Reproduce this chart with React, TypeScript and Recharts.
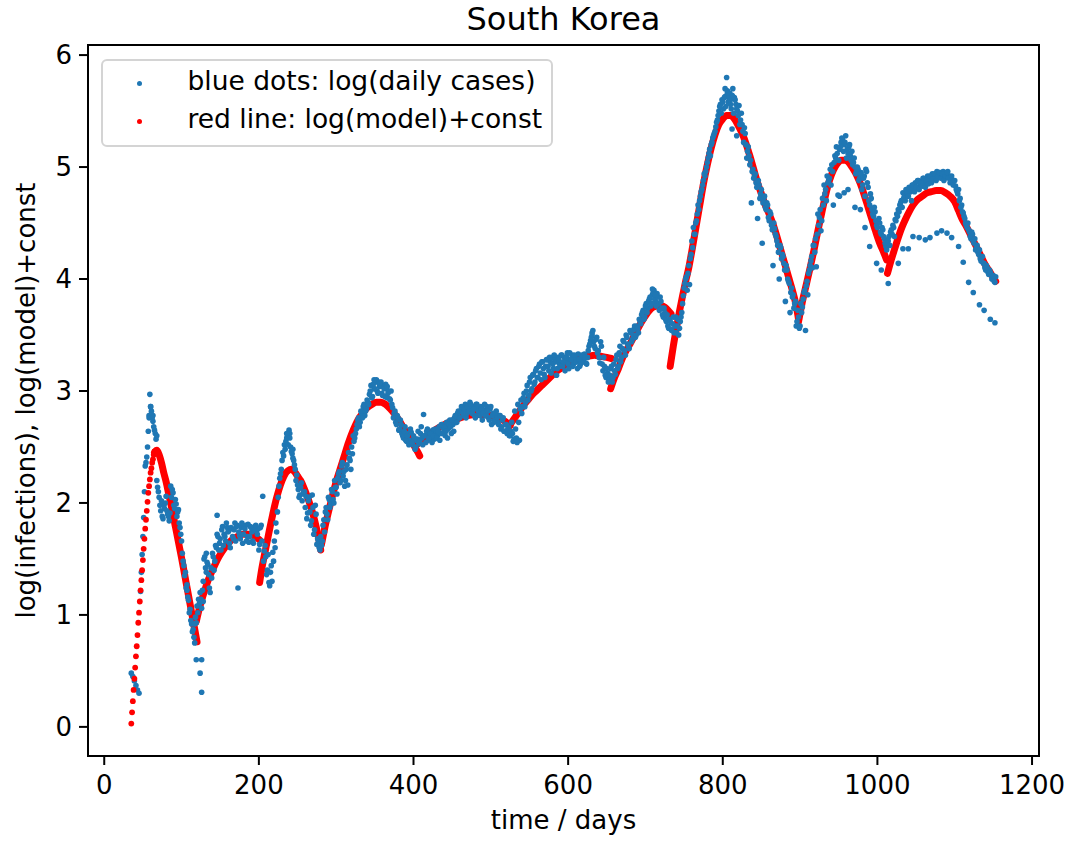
import React from "react";
import { ComposedChart, Scatter, Line, XAxis, YAxis, ReferenceArea } from "recharts";

const FONT = "'DejaVu Sans', sans-serif";
const BLUE = "#1f77b4";
const RED = "#ff0000";

const X_DOMAIN: [number, number] = [-21, 1209];
const Y_DOMAIN: [number, number] = [-0.26, 6.09];
const xTicks = [0, 200, 400, 600, 800, 1000, 1200];
const yTicks = [0, 1, 2, 3, 4, 5, 6];

// log(daily cases), odd days starting at day 35
const BLUE_ODD_FIRST_DAY = 35;
const BLUE_STEP = 2;
const blueCases1 = [
  0.48, 0.45, 0.41, 0.37, 0.33, 0.30, 1.21, 1.54, 1.87, 2.33,
  2.41, 2.64, 2.97, 2.82, 2.73, 2.65, 2.57, 2.14, 2.05, 1.93,
  1.88, 1.98, 2.00, 1.93, 1.88, 1.91, 2.05, 2.09, 1.95, 1.99,
  1.92, 1.82, 1.72, 1.55, 1.44, 1.38, 1.27, 1.13, 1.05, 0.92,
  0.87, 0.75, 0.93, 1.02, 1.10, 1.14, 1.22, 1.50, 1.42, 1.47,
  1.36, 1.20, 1.33, 1.52, 1.48, 1.60, 1.70, 1.64, 1.58, 1.79,
  1.72, 1.66, 1.78, 1.75, 1.60, 1.77, 1.68, 1.82, 1.79, 1.24,
  1.71, 1.78, 1.64, 1.79, 1.80, 1.70, 1.65, 1.79, 1.74, 1.64,
  1.79, 1.75, 1.77, 1.63, 1.80, 2.06, 1.57, 1.52, 1.40, 1.29,
  1.38, 1.30, 1.48, 1.60, 1.74, 2.05, 2.22, 2.30, 2.45, 2.52,
  2.55, 2.60, 2.65, 2.50, 2.44, 2.38, 2.30, 2.25, 2.12, 2.07,
  2.18, 2.08, 2.10, 2.06, 1.91, 2.05, 1.80, 2.07, 1.72, 1.98,
  1.63, 1.66, 1.58, 1.62, 1.80, 1.74, 1.96, 1.85, 2.03, 1.99,
];
const blueCases2 = [
  2.10, 2.00, 2.14, 2.08, 2.26, 2.18, 2.33, 2.24, 2.15, 2.30,
  2.16, 2.40, 2.30, 2.44, 2.55, 2.62, 2.70, 2.76, 2.72, 2.80,
  2.86, 2.78, 2.84, 2.90, 2.97, 3.05, 2.95, 3.02, 3.08, 3.00,
  3.08, 3.04, 2.98, 3.05, 2.95, 3.02, 2.98, 2.93, 3.00, 2.85,
  2.80, 2.72, 2.78, 2.65, 2.74, 2.62, 2.58, 2.68, 2.55, 2.62,
  2.56, 2.63, 2.52, 2.58, 2.50, 2.57, 2.53, 2.62, 2.58, 2.79,
  2.60, 2.64, 2.56, 2.62, 2.58, 2.65, 2.57, 2.63, 2.60, 2.68,
  2.62, 2.70, 2.66, 2.60, 2.72, 2.66, 2.74, 2.62, 2.70, 2.76,
  2.72, 2.80, 2.76, 2.82, 2.85, 2.78, 2.88, 2.80, 2.84, 2.90,
  2.82, 2.86, 2.78, 2.88, 2.84, 2.80, 2.86, 2.74, 2.83, 2.78,
  2.86, 2.76, 2.84, 2.70, 2.80, 2.74, 2.82, 2.72, 2.78, 2.66,
  2.74, 2.64, 2.70, 2.62, 2.68, 2.60, 2.72, 2.55, 2.82, 2.58,
];
const blueCases3 = [
  2.88, 2.56, 2.92, 2.86, 2.98, 2.90, 3.05, 2.96, 3.12, 3.02,
  3.15, 3.08, 3.20, 3.12, 3.24, 3.10, 3.26, 3.15, 3.22, 3.28,
  3.18, 3.26, 3.30, 3.20, 3.28, 3.14, 3.30, 3.24, 3.32, 3.22,
  3.30, 3.26, 3.34, 3.20, 3.28, 3.32, 3.24, 3.30, 3.26, 3.33,
  3.22, 3.30, 3.27, 3.33, 3.25, 3.30, 3.40, 3.45, 3.52, 3.44,
  3.38, 3.48, 3.36, 3.25, 3.40, 3.18, 3.22, 3.12, 3.16, 3.10,
  3.20, 3.08, 3.24, 3.15, 3.32, 3.22, 3.40, 3.30, 3.45, 3.36,
  3.50, 3.42, 3.38, 3.52, 3.46, 3.55, 3.48, 3.58, 3.52, 3.62,
  3.68, 3.72, 3.66, 3.78, 3.74, 3.82, 3.76, 3.86, 3.90, 3.80,
  3.87, 3.78, 3.84, 3.74, 3.66, 3.70, 3.62, 3.58, 3.64, 3.55,
  3.60, 3.52, 3.66, 3.58, 3.50, 3.62, 3.70, 3.85, 3.96, 4.02,
];
const blueCases4 = [
  4.05, 3.95, 4.22, 4.28, 4.40, 4.50, 4.58, 4.62, 4.74, 4.80,
  4.88, 4.92, 5.00, 5.08, 5.16, 5.20, 5.26, 5.30, 5.36, 5.42,
  5.50, 5.56, 5.60, 5.52, 5.63, 5.80, 5.58, 5.66, 5.52, 5.70,
  5.62, 5.56, 5.50, 5.55, 5.42, 5.38, 5.22, 5.30, 5.08, 5.18,
  5.02, 4.68, 4.98, 4.92, 4.86, 4.54, 4.84, 4.76, 4.32, 4.72,
  4.64, 4.68, 4.55, 4.60, 4.48, 4.12, 4.45, 4.38, 4.30, 4.00,
  4.28, 4.22, 4.14, 3.80, 4.08, 3.98, 3.70, 3.92, 3.86, 3.78,
  3.58, 3.72, 3.56, 3.78, 3.75, 3.88, 3.54, 3.98, 4.05, 4.12,
  4.20, 4.30, 4.24, 4.11, 4.58, 4.55, 4.43, 4.72, 4.84, 4.80,
  4.92, 4.88, 4.98, 5.02, 4.66, 5.10, 5.18, 4.75, 5.16, 5.22,
];
const blueCases5 = [
  5.25, 5.20, 5.28, 5.16, 5.18, 5.10, 5.14, 5.04, 5.00, 4.96,
  4.98, 4.90, 4.95, 4.84, 4.92, 4.98, 4.86, 4.70, 4.76, 4.62,
  4.56, 4.60, 4.48, 4.52, 4.50, 4.40, 4.44, 4.36, 4.29, 4.34,
  4.38, 4.42, 4.40, 4.46, 4.53, 4.58, 4.62, 4.66, 4.70, 4.77,
  4.74, 4.80, 4.76, 4.82, 4.78, 4.84, 4.80, 4.86, 4.82, 4.88,
  4.84, 4.87, 4.90, 4.85, 4.88, 4.92, 4.86, 4.90, 4.94, 4.89,
  4.93, 4.96, 4.91, 4.95, 4.92, 4.96, 4.90, 4.94, 4.96, 4.92,
  4.90, 4.86, 4.88, 4.83, 4.78, 4.80, 4.72, 4.66, 4.59, 4.54,
  4.48, 4.50, 4.42, 4.36, 4.40, 4.32, 4.26, 4.30, 4.22, 4.18,
  4.20, 4.14, 4.10, 4.12, 4.06, 4.08, 4.04, 4.01, 3.98, 4.02,
];

// log(daily cases), even days starting at day 48
const BLUE_EVEN_FIRST_DAY = 48;
const blueEven1 = [
  1.38, 1.70, 2.10, 2.36, 2.50, 2.78, 2.86, 2.76, 2.68, 2.62,
  2.20, 2.10, 1.98, 2.02, 1.86, 1.95, 2.06, 1.90, 1.84, 2.15,
  2.12, 1.98, 2.03, 1.88, 1.94, 1.78, 1.66, 1.48, 1.35, 1.24,
  1.16, 1.02, 0.95, 0.85, 0.80, 0.98, 1.08, 1.14, 1.20, 1.06,
  1.30, 1.52, 1.38, 1.45, 1.24, 1.42, 1.55, 1.40, 1.62, 1.72,
  1.58, 1.68, 1.76, 1.62, 1.70, 1.82, 1.74, 1.64, 1.78, 1.70,
  1.76, 1.66, 1.80, 1.74, 1.68, 1.82, 1.72, 1.77, 1.66, 1.81,
  1.70, 1.78, 1.66, 1.76, 1.80, 1.72, 1.58, 1.78, 1.66, 1.48,
  1.62, 1.36, 1.54, 1.26, 1.44, 1.56, 1.66, 1.82, 1.92, 2.15,
  2.26, 2.38, 2.42, 2.48, 2.58, 2.52, 2.62, 2.46, 2.40, 2.34,
  2.20, 2.16, 2.05, 2.14, 2.02, 2.10, 1.96, 1.86, 2.02, 1.92,
  1.84, 1.96, 1.76, 1.90, 1.68, 1.60, 1.70, 1.66, 1.85, 1.92,
  1.90, 2.05, 1.96, 2.12, 2.03, 2.20, 2.14, 2.22, 2.28, 2.20,
];
const blueEven2 = [
  2.36, 2.28, 2.20, 2.34, 2.45, 2.38, 2.50, 2.60, 2.58, 2.66,
  2.74, 2.68, 2.82, 2.76, 2.88, 2.82, 2.92, 2.88, 3.00, 2.94,
  3.06, 3.02, 3.10, 2.98, 3.04, 3.08, 2.96, 3.02, 3.06, 2.94,
  3.00, 2.92, 2.88, 2.76, 2.82, 2.70, 2.76, 2.66, 2.70, 2.60,
  2.64, 2.56, 2.60, 2.52, 2.66, 2.54, 2.60, 2.48, 2.56, 2.64,
  2.55, 2.68, 2.52, 2.60, 2.54, 2.66, 2.58, 2.62, 2.54, 2.60,
  2.66, 2.58, 2.64, 2.56, 2.70, 2.62, 2.68, 2.64, 2.58, 2.70,
  2.68, 2.74, 2.64, 2.78, 2.72, 2.82, 2.76, 2.86, 2.80, 2.84,
  2.76, 2.86, 2.82, 2.88, 2.80, 2.84, 2.76, 2.88, 2.82, 2.78,
  2.84, 2.80, 2.88, 2.78, 2.82, 2.74, 2.86, 2.78, 2.72, 2.80,
  2.76, 2.70, 2.78, 2.68, 2.76, 2.64, 2.70, 2.66, 2.60, 2.64,
  2.62, 2.57, 2.66, 2.54, 2.72, 2.84, 2.80, 2.94, 2.86, 3.00,
];
const blueEven3 = [
  2.92, 3.08, 3.00, 3.14, 3.06, 3.18, 3.12, 3.22, 3.16, 3.26,
  3.20, 3.12, 3.28, 3.22, 3.30, 3.16, 3.24, 3.32, 3.26, 3.20,
  3.28, 3.22, 3.32, 3.26, 3.18, 3.30, 3.24, 3.34, 3.28, 3.22,
  3.32, 3.26, 3.20, 3.28, 3.24, 3.32, 3.26, 3.30, 3.24, 3.36,
  3.42, 3.48, 3.54, 3.40, 3.46, 3.34, 3.30, 3.44, 3.24, 3.30,
  3.14, 3.20, 3.08, 3.14, 3.22, 3.12, 3.18, 3.28, 3.20, 3.34,
  3.26, 3.38, 3.44, 3.32, 3.48, 3.40, 3.54, 3.44, 3.50, 3.58,
  3.50, 3.56, 3.64, 3.60, 3.70, 3.64, 3.76, 3.70, 3.80, 3.84,
  3.78, 3.88, 3.82, 3.76, 3.84, 3.72, 3.80, 3.68, 3.74, 3.64,
  3.68, 3.56, 3.62, 3.54, 3.66, 3.58, 3.52, 3.64, 3.56, 3.66,
  3.78, 3.92, 4.00, 3.90, 4.12, 4.18, 4.34, 4.46, 4.40, 4.52,
];
const blueEven4 = [
  4.66, 4.70, 4.78, 4.84, 4.94, 4.96, 5.04, 5.12, 5.10, 5.22,
  5.28, 5.32, 5.40, 5.46, 5.54, 5.48, 5.58, 5.62, 5.54, 5.68,
  5.62, 5.56, 5.64, 5.48, 5.60, 5.52, 5.46, 5.38, 5.48, 5.32,
  5.35, 5.20, 5.14, 5.10, 5.06, 4.96, 4.90, 4.94, 4.82, 4.88,
  4.72, 4.80, 4.68, 4.74, 4.62, 4.66, 4.52, 4.58, 4.44, 4.50,
  4.40, 4.34, 4.24, 4.30, 4.18, 4.20, 4.08, 4.12, 4.00, 3.96,
  3.88, 3.84, 3.74, 3.80, 3.62, 3.66, 3.58, 3.70, 3.82, 3.90,
  3.94, 3.86, 4.08, 4.16, 4.10, 4.30, 4.36, 4.40, 4.48, 4.62,
  4.52, 4.66, 4.76, 4.70, 4.86, 4.90, 4.84, 4.96, 5.04, 5.08,
  5.12, 5.06, 5.18, 5.26, 5.14, 5.22, 5.08, 5.12, 5.20, 5.06,
];
const blueEven5 = [
  5.02, 5.08, 4.94, 5.00, 4.88, 4.94, 4.80, 4.90, 4.74, 4.96,
  4.82, 4.66, 4.72, 4.58, 4.64, 4.52, 4.46, 4.54, 4.42, 4.46,
  4.38, 4.32, 4.26, 4.34, 4.30, 4.44, 4.48, 4.38, 4.52, 4.56,
  4.60, 4.68, 4.64, 4.72, 4.70, 4.78, 4.74, 4.80, 4.70, 4.84,
  4.78, 4.82, 4.88, 4.80, 4.86, 4.83, 4.90, 4.82, 4.88, 4.85,
  4.92, 4.86, 4.90, 4.94, 4.88, 4.92, 4.95, 4.90, 4.94, 4.88,
  4.92, 4.95, 4.90, 4.86, 4.92, 4.84, 4.88, 4.80, 4.76, 4.70,
  4.64, 4.60, 4.56, 4.50, 4.46, 4.44, 4.38, 4.42, 4.34, 4.36,
  4.28, 4.24, 4.26, 4.16, 4.20, 4.14, 4.08, 4.10, 4.04, 4.06,
  4.00, 4.03, 3.97,
];

// outliers and the weekly low readings, [day, value]
const blueExtra: [number, number][] = [
  [58, 2.76], [60, 2.86], [63, 2.78], [68, 2.60], [107, 1.22], [117, 0.92],
  [119, 0.60], [124, 0.48], [126, 0.60], [126, 0.31], [128, 1.12], [132, 1.55], [146, 1.89],
  [236, 2.62], [240, 2.58], [244, 2.48], [349, 3.10], [356, 3.06], [366, 3.04],
  [631, 3.50], [709, 3.91], [713, 3.86],
  [803, 5.70], [806, 5.66], [810, 5.60], [812, 5.34], [813, 5.63], [818, 5.28],
  [951, 4.74], [957, 4.77], [962, 4.80],
  [971, 4.64], [978, 4.62], [984, 4.46], [990, 4.29], [999, 4.14], [1005, 4.08],
  [1014, 3.96], [1027, 4.14], [1033, 4.27], [1040, 4.27], [1046, 4.38], [1054, 4.37],
  [1062, 4.35], [1068, 4.37], [1077, 4.41], [1083, 4.43], [1090, 4.41], [1096, 4.37],
  [1105, 4.29], [1111, 4.15], [1118, 3.97], [1124, 3.88], [1132, 3.77], [1138, 3.72],
  [1146, 3.64], [1152, 3.61],
];

// log(model)+const: the first wave start, one dot per day from day 35
const RED_RISE_FIRST_DAY = 35;
const redRise = [
  0.03, 0.13, 0.23, 0.33, 0.43, 0.53, 0.63, 0.72, 0.82, 0.93, 1.02, 1.12, 1.22, 1.31, 1.40, 1.49,
  1.59, 1.68, 1.77, 1.85, 1.93, 2.01, 2.09, 2.15, 2.21, 2.27, 2.31, 2.36, 2.39, 2.43, 2.46,
];
// each fit window of the model, [day, value]
const redFit1: [number, number][] = [[65, 2.45], [66, 2.46], [68, 2.47], [71, 2.43], [74, 2.36], [77, 2.27], [80, 2.19], [84, 2.06], [88, 1.93], [92, 1.79], [96, 1.65], [100, 1.51], [104, 1.36], [108, 1.21], [112, 1.06], [116, 0.91], [120, 0.76]];
const redFit2: [number, number][] = [[119, 0.94], [122, 1.03], [126, 1.13], [130, 1.22], [135, 1.32], [140, 1.40], [146, 1.49], [152, 1.56], [158, 1.62], [165, 1.67], [172, 1.70], [180, 1.72], [188, 1.72], [195, 1.70], [201, 1.67]];
const redFit3: [number, number][] = [[201, 1.29], [204, 1.42], [207, 1.53], [210, 1.63], [214, 1.77], [218, 1.90], [222, 2.02], [226, 2.12], [230, 2.20], [234, 2.26], [238, 2.29], [242, 2.30], [246, 2.28], [250, 2.24], [254, 2.20], [258, 2.14], [262, 2.07], [266, 1.99], [270, 1.90], [274, 1.79], [278, 1.66], [280, 1.58]];
const redFit4: [number, number][] = [[281, 1.63], [285, 1.77], [290, 1.92], [295, 2.06], [300, 2.19], [305, 2.30], [310, 2.41], [316, 2.54], [322, 2.65], [328, 2.74], [334, 2.80], [340, 2.85], [346, 2.88], [352, 2.90], [358, 2.90], [364, 2.88], [370, 2.84], [376, 2.79], [382, 2.73], [388, 2.66], [394, 2.59], [400, 2.52], [405, 2.46], [408, 2.42]];
const redFit5: [number, number][] = [[406, 2.53], [412, 2.57], [420, 2.61], [430, 2.66], [440, 2.70], [450, 2.73], [460, 2.76], [470, 2.78], [480, 2.79], [490, 2.79], [500, 2.78], [510, 2.76], [518, 2.73], [525, 2.69]];
const redFit6: [number, number][] = [[525, 2.70], [530, 2.75], [536, 2.81], [542, 2.87], [548, 2.92], [554, 2.97], [560, 3.01], [566, 3.05], [572, 3.09], [578, 3.13], [584, 3.17], [590, 3.20], [596, 3.23], [602, 3.26], [610, 3.28], [618, 3.30], [626, 3.31], [634, 3.32], [642, 3.31], [650, 3.30], [656, 3.29]];
const redFit7: [number, number][] = [[655, 3.02], [660, 3.12], [665, 3.20], [670, 3.29], [675, 3.36], [680, 3.42], [686, 3.50], [692, 3.58], [698, 3.65], [704, 3.71], [710, 3.75], [716, 3.76], [722, 3.76], [728, 3.73], [733, 3.69]];
const redFit8: [number, number][] = [[732, 3.22], [736, 3.40], [740, 3.56], [744, 3.71], [748, 3.85], [752, 3.98], [756, 4.10], [760, 4.25], [765, 4.45], [770, 4.65], [775, 4.85], [780, 5.02], [785, 5.17], [790, 5.29], [795, 5.38], [800, 5.43], [805, 5.46], [810, 5.46], [815, 5.43], [820, 5.37], [825, 5.30], [830, 5.21], [835, 5.10], [840, 4.98], [845, 4.86], [850, 4.76], [855, 4.66], [860, 4.58], [865, 4.49], [870, 4.38], [875, 4.26], [880, 4.14], [885, 4.02], [890, 3.90], [895, 3.76], [898, 3.64]];
const redFit9: [number, number][] = [[898, 3.62], [903, 3.80], [908, 3.95], [913, 4.10], [918, 4.26], [923, 4.43], [928, 4.59], [933, 4.75], [938, 4.88], [943, 4.97], [948, 5.03], [953, 5.06], [958, 5.06], [963, 5.04], [968, 4.99], [973, 4.93], [978, 4.85], [983, 4.75], [988, 4.64], [993, 4.53], [998, 4.42], [1003, 4.32], [1008, 4.24], [1012, 4.17]];
const redFit10: [number, number][] = [[1013, 4.05], [1017, 4.15], [1021, 4.24], [1026, 4.35], [1031, 4.45], [1036, 4.53], [1041, 4.60], [1046, 4.66], [1052, 4.71], [1058, 4.74], [1064, 4.77], [1070, 4.78], [1076, 4.79], [1082, 4.79], [1088, 4.77], [1094, 4.74], [1100, 4.69], [1105, 4.61], [1110, 4.53], [1115, 4.47], [1120, 4.40], [1125, 4.33], [1130, 4.26], [1135, 4.19], [1140, 4.12], [1145, 4.07], [1150, 4.01], [1153, 3.98]];

const toPoints = (pairs: [number, number][]) => pairs.map(([day, v]) => ({ day, v }));
const everyOtherDay = (values: number[], firstDay: number) =>
  values.map((v, i) => ({ day: firstDay + i * BLUE_STEP, v }));

const blueOddDays = everyOtherDay([...blueCases1, ...blueCases2, ...blueCases3, ...blueCases4, ...blueCases5], BLUE_ODD_FIRST_DAY);
const blueEvenDays = everyOtherDay([...blueEven1, ...blueEven2, ...blueEven3, ...blueEven4, ...blueEven5], BLUE_EVEN_FIRST_DAY);
const blueOther = toPoints(blueExtra);
const redRisePoints = redRise.map((v, i) => ({ day: RED_RISE_FIRST_DAY + i, v }));
const redFits = [redFit1, redFit2, redFit3, redFit4, redFit5, redFit6, redFit7, redFit8, redFit9, redFit10].map(toPoints);

const blueDot = (props: any) => <circle cx={props.cx} cy={props.cy} r={2.8} fill={BLUE} />;
const redDot = (props: any) => <circle cx={props.cx} cy={props.cy} r={2.9} fill={RED} />;

const tickStyle = { fill: "#000", fontSize: 26, fontFamily: FONT };
const labelStyle = { fill: "#000", fontSize: 26, fontFamily: FONT, textAnchor: "middle" as const };

export default function App() {
  return (
    <div style={{ position: "fixed", left: 0, top: 0, width: 1073, height: 841, background: "#fff", fontFamily: FONT }}>
      <div
        style={{
          position: "absolute",
          left: 88,
          width: 951,
          top: 3,
          textAlign: "center",
          fontSize: 32,
          lineHeight: "32px",
          color: "#000",
        }}
      >
        South Korea
      </div>

      <ComposedChart width={1073} height={841} margin={{ top: 45, right: 34, bottom: 5, left: 15 }}>
        <XAxis
          type="number"
          dataKey="day"
          domain={X_DOMAIN}
          ticks={xTicks}
          allowDataOverflow
          height={80}
          axisLine={false}
          tickSize={9}
          tickMargin={11}
          tickLine={{ stroke: "#000", strokeWidth: 2 }}
          tick={tickStyle}
          label={{ value: "time / days", position: "insideBottom", offset: 7, style: labelStyle }}
        />
        <YAxis
          type="number"
          dataKey="v"
          domain={Y_DOMAIN}
          ticks={yTicks}
          allowDataOverflow
          width={73}
          axisLine={false}
          tickSize={9}
          tickMargin={7}
          tickLine={{ stroke: "#000", strokeWidth: 2 }}
          tick={tickStyle}
          label={{
            value: "log(infections), log(model)+const",
            angle: -90,
            position: "insideLeft",
            offset: 10.5,
            style: labelStyle,
          }}
        />
        <Scatter data={blueOddDays} shape={blueDot} isAnimationActive={false} />
        <Scatter data={blueEvenDays} shape={blueDot} isAnimationActive={false} />
        <Scatter data={blueOther} shape={blueDot} isAnimationActive={false} />
        <Scatter data={redRisePoints} shape={redDot} isAnimationActive={false} />
        {redFits.map((seg, i) => (
          <Line
            key={i}
            data={seg}
            dataKey="v"
            type="monotone"
            stroke={RED}
            strokeWidth={7}
            strokeLinecap="round"
            strokeLinejoin="round"
            dot={false}
            activeDot={false}
            isAnimationActive={false}
          />
        ))}
        <ReferenceArea
          x1={X_DOMAIN[0]}
          x2={X_DOMAIN[1]}
          y1={Y_DOMAIN[0]}
          y2={Y_DOMAIN[1]}
          fill="none"
          stroke="#000"
          strokeWidth={2}
          ifOverflow="visible"
        />
      </ComposedChart>

      <div
        style={{
          position: "absolute",
          left: 101,
          top: 59,
          width: 452,
          height: 88,
          boxSizing: "border-box",
          border: "2px solid #d4d4d4",
          borderRadius: 6,
          background: "rgba(255,255,255,0.8)",
        }}
      >
        {[
          { color: BLUE, text: "blue dots: log(daily cases)", cy: 22, base: 29 },
          { color: RED, text: "red line: log(model)+const", cy: 60.7, base: 67.3 },
        ].map((row) => (
          <React.Fragment key={row.text}>
            <div
              style={{
                position: "absolute",
                left: 36.3 - 2.5,
                top: row.cy - 2.5,
                width: 5,
                height: 5,
                borderRadius: "50%",
                background: row.color,
              }}
            />
            <div
              style={{
                position: "absolute",
                left: 84.5,
                top: row.base - 22.4,
                fontSize: 26.5,
                lineHeight: "26.5px",
                whiteSpace: "nowrap",
                color: "#000",
              }}
            >
              {row.text}
            </div>
          </React.Fragment>
        ))}
      </div>
    </div>
  );
}
